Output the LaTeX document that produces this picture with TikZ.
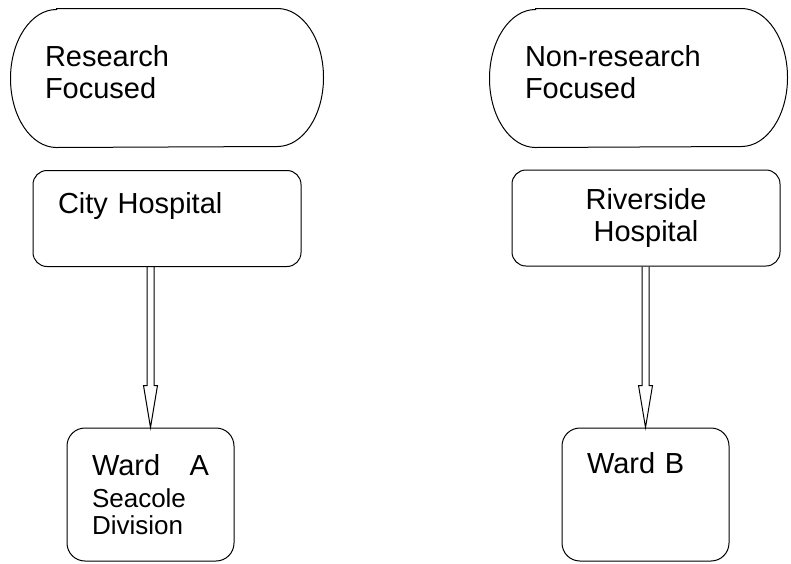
\documentclass[tikz,border=0pt]{standalone}
\usepackage{fontspec}
\setmainfont{Liberation Sans}
\usetikzlibrary{calc}

\tikzset{
  capsule/.style={minimum width=#1, minimum height=138pt, align=left, inner sep=0pt},
  hospbox/.style={draw, rounded corners=14pt, minimum width=268pt, minimum height=96pt, inner sep=0pt},
  wardbox/.style={draw, rounded corners=18pt, minimum width=167pt, minimum height=133pt, inner sep=0pt, text width=117pt, align=left},
}

% Umriss der Kapsel um einen Knoten
\newcommand{\capsuleline}[1]{%
  \draw ([xshift=46pt]#1.north west) -- ([xshift=-46pt]#1.north east)
    arc[start angle=90, end angle=-90, x radius=46pt, y radius=69pt]
    -- ([xshift=46pt]#1.south west)
    arc[start angle=270, end angle=90, x radius=46pt, y radius=69pt] -- cycle;}

% Hohlpfeil: Doppelschaft mit offener Spitze
\newcommand{\hollowarrow}[2]{%
  \draw ([xshift=-3.5pt]#2.north |- #1.south) -- ([xshift=-3.5pt, yshift=42pt]#2.north)
    -- ([xshift=-7pt, yshift=42pt]#2.north) -- (#2.north)
    -- ([xshift=7pt, yshift=42pt]#2.north) -- ([xshift=3.5pt, yshift=42pt]#2.north)
    -- ([xshift=3.5pt]#2.north |- #1.south);}

\begin{document}
\begin{tikzpicture}[x=1pt, y=-1pt, line width=1pt, font=\fontsize{29}{32}\selectfont]
    \useasboundingbox (0,0) rectangle (791,563);

    % obere Kapseln
    \node[capsule=312pt, text width=244pt] (research) at (167,78) {Research\\Focused\\[-20pt]\mbox{}};
    \node[capsule=297pt, text width=227pt] (nonresearch) at (638.5,78) {Non-research\\Focused\\[-20pt]\mbox{}};
    \capsuleline{research}
    \capsuleline{nonresearch}

    % Krankenhaeuser
    \node[hospbox, text width=218pt, align=left] (city) at (167,218.5) {City Hospital\\ \mbox{}};
    \node[hospbox, text width=218pt, align=center] (riverside) at (646,218) {Riverside\\Hospital};

    % Stationen
    \node[wardbox] (wardA) at (150.5,494.5)
      {\makebox[117pt][l]{Ward\hfill A}\\[0pt]
       {\fontsize{26}{28}\selectfont Seacole}\\[-5pt]
       {\fontsize{26}{28}\selectfont Division}};
    \node[wardbox] (wardB) at (645.5,494.5) {Ward B\\ \mbox{}\\ \mbox{}};

    % Pfeile
    \hollowarrow{city}{wardA}
    \hollowarrow{riverside}{wardB}
\end{tikzpicture}
\end{document}
